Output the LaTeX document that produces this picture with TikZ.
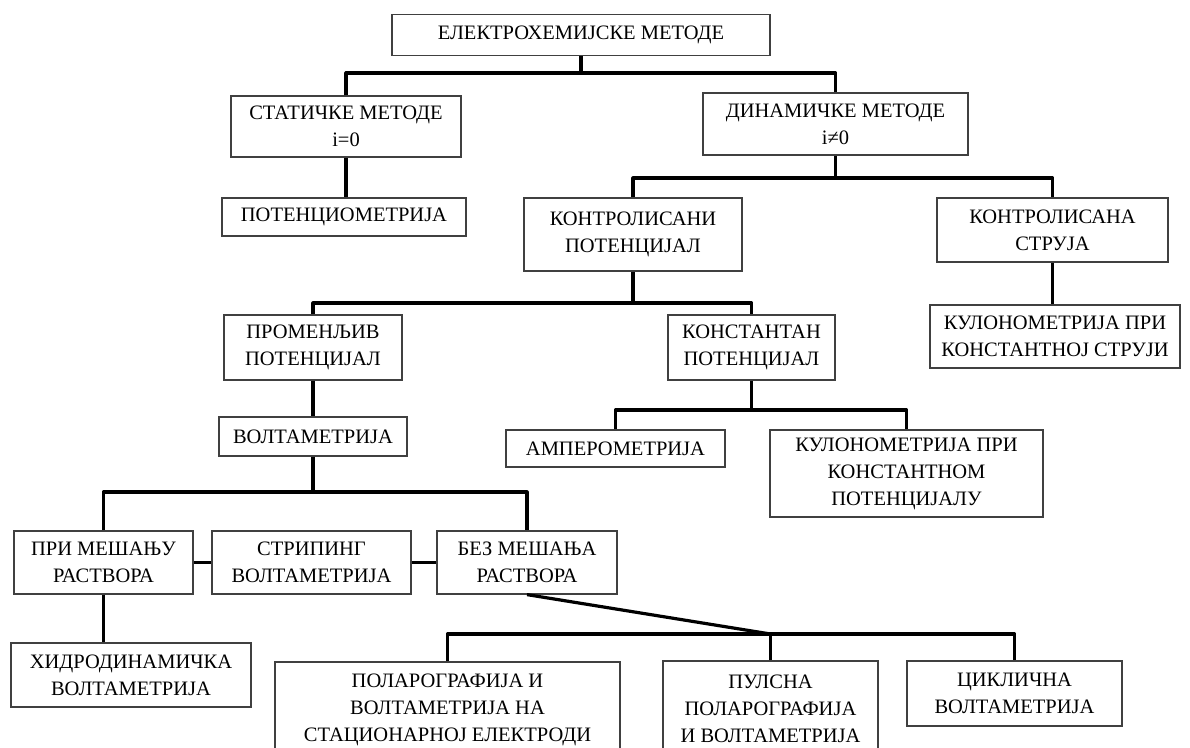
\documentclass[tikz,border=0pt]{standalone}
\usepackage{fontspec}
\setmainfont{Liberation Serif}
\begin{document}
\begin{tikzpicture}[x=1pt,y=-1pt,
  box/.style={draw=black!75, line width=1.2pt, fill=white, align=center, inner sep=0pt,
    font=\fontsize{20.5}{27}\selectfont},
  conn/.style={draw=black, line width=3.2pt, line join=round}]
\useasboundingbox (0,0) rectangle (1190,747);
\clip (0,0) rectangle (1190,747);
\fill[white] (0,0) rectangle (1190,747);

% nodes
\node[box, minimum width=378pt, minimum height=41pt] (top) at (581,35) {ЕЛЕКТРОХЕМИЈСКЕ МЕТОДЕ};
\node[box, minimum width=230pt, minimum height=61pt] (stat) at (346,126.5) {СТАТИЧКЕ МЕТОДЕ\\i=0};
\node[box, minimum width=265pt, minimum height=62pt] (dyn) at (835.5,124) {ДИНАМИЧКЕ МЕТОДЕ\\i≠0};
\node[box, minimum width=244pt, minimum height=38pt] (pot) at (344,217) {ПОТЕНЦИОМЕТРИЈА};
\node[box, minimum width=218pt, minimum height=73pt] (kpot) at (633,234.5) {КОНТРОЛИСАНИ\\ПОТЕНЦИЈАЛ};
\node[box, minimum width=231pt, minimum height=64pt] (kcur) at (1052.5,230) {КОНТРОЛИСАНА\\СТРУЈА};
\node[box, minimum width=250pt, minimum height=63pt] (kulcur) at (1055,336.5) {КУЛОНОМЕТРИЈА ПРИ\\КОНСТАНТНОЈ СТРУЈИ};
\node[box, minimum width=178pt, minimum height=65pt] (prom) at (313,347.5) {ПРОМЕНЉИВ\\ПОТЕНЦИЈАЛ};
\node[box, minimum width=167pt, minimum height=65pt] (konst) at (751.5,347.5) {КОНСТАНТАН\\ПОТЕНЦИЈАЛ};
\node[box, minimum width=188pt, minimum height=39pt] (volt) at (313,436.5) {ВОЛТАМЕТРИЈА};
\node[box, minimum width=219pt, minimum height=37pt] (amp) at (615.5,448.5) {АМПЕРОМЕТРИЈА};
\node[box, minimum width=273pt, minimum height=87pt] (kulpot) at (906.5,473.5) {КУЛОНОМЕТРИЈА ПРИ\\КОНСТАНТНОМ\\ПОТЕНЦИЈАЛУ};
\node[box, minimum width=179pt, minimum height=63pt] (pri) at (103.5,562.5) {ПРИ МЕШАЊУ\\РАСТВОРА};
\node[box, minimum width=199pt, minimum height=63pt] (str) at (311.5,562.5) {СТРИПИНГ\\ВОЛТАМЕТРИЈА};
\node[box, minimum width=180pt, minimum height=63pt] (bez) at (527,562.5) {БЕЗ МЕШАЊА\\РАСТВОРА};
\node[box, minimum width=240pt, minimum height=64pt] (hidro) at (131,675) {ХИДРОДИНАМИЧКА\\ВОЛТАМЕТРИЈА};
\node[box, minimum width=345pt, minimum height=96pt] (polar) at (447.5,710) {ПОЛАРОГРАФИЈА И\\ВОЛТАМЕТРИЈА НА\\СТАЦИОНАРНОЈ ЕЛЕКТРОДИ};
\node[box, minimum width=215pt, minimum height=96pt] (puls) at (770.5,709) {ПУЛСНА\\ПОЛАРОГРАФИЈА\\И ВОЛТАМЕТРИЈА};
\node[box, minimum width=215pt, minimum height=65pt] (cikl) at (1014.5,693.5) {ЦИКЛИЧНА\\ВОЛТАМЕТРИЈА};

% junctions
\coordinate (j1) at (top.south |- 0,73);
\coordinate (j2) at (dyn.south |- 0,178);
\coordinate (j3) at (kpot.south |- 0,303);
\coordinate (j4) at (konst.south |- 0,410);
\coordinate (j5) at (volt.south |- 0,492);
\coordinate (j6) at (puls.north |- 0,634);

% connectors
\draw[conn] (top.south) -- (j1);
\draw[conn] (stat.north) |- (j1) -| (dyn.north);
\draw[conn] (stat.south) -- (stat.south |- pot.north);
\draw[conn] (dyn.south) -- (j2);
\draw[conn] (kpot.north) |- (j2) -| (kcur.north);
\draw[conn] (kcur.south) -- (kcur.south |- kulcur.north);
\draw[conn] (kpot.south) -- (j3);
\draw[conn] (prom.north) |- (j3) -| (konst.north);
\draw[conn] (prom.south) -- (volt.north);
\draw[conn] (konst.south) -- (j4);
\draw[conn] (amp.north) |- (j4) -| (kulpot.north);
\draw[conn] (volt.south) -- (j5);
\draw[conn] (pri.north) |- (j5) -| (bez.north);
\draw[conn] (pri.east) -- (str.west);
\draw[conn] (str.east) -- (bez.west);
\draw[conn] (pri.south) -- (pri.south |- hidro.north);
\draw[conn] (bez.south) -- (j6);
\draw[conn] (polar.north) |- (j6) -| (cikl.north);
\draw[conn] (puls.north) -- (j6);
\end{tikzpicture}
\end{document}
